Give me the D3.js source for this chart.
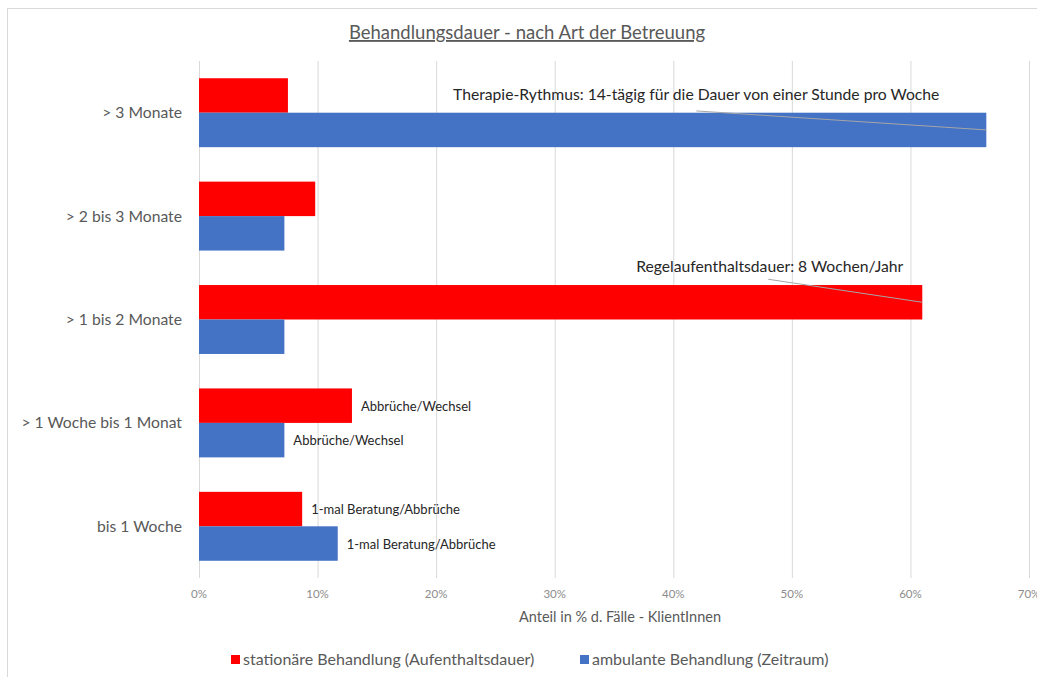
<!DOCTYPE html>
<html lang="de">
<head>
<meta charset="UTF-8">
<title>Behandlungsdauer</title>
<style>
  body { margin: 0; background: #fff; }
  svg text { font-family: Lato, "Open Sans", sans-serif; }
</style>
</head>
<body>
<div id="chart"></div>
<script src="https://cdnjs.cloudflare.com/ajax/libs/d3/7.8.5/d3.min.js"></script>
<script>
// data
var categories = ["> 3 Monate", "> 2 bis 3 Monate", "> 1 bis 2 Monate", "> 1 Woche bis 1 Monat", "bis 1 Woche"];
var stationaer = [7.5, 9.8, 61.0, 12.9, 8.7];
var ambulant = [66.4, 7.2, 7.2, 7.2, 11.7];
var seriesNames = ["stationäre Behandlung (Aufenthaltsdauer)", "ambulante Behandlung (Zeitraum)"];
var ticks = [0, 10, 20, 30, 40, 50, 60, 70];
var stationaerLabels = ["", "", "", "Abbrüche/Wechsel", "1-mal Beratung/Abbrüche"];
var ambulantLabels = ["", "", "", "Abbrüche/Wechsel", "1-mal Beratung/Abbrüche"];
var callouts = [
  { series: 1, cat: 0, text: "Therapie-Rythmus: 14-tägig für die Dauer von einer Stunde pro Woche" },
  { series: 0, cat: 2, text: "Regelaufenthaltsdauer: 8 Wochen/Jahr" }
];
var title = "Behandlungsdauer - nach Art der Betreuung";
var xTitle = "Anteil in % d. Fälle - KlientInnen";

var W = 1037, H = 677;
var colors = ["#ff0000", "#4472c4"];
var plot = { left: 199, right: 1029, top: 61, bottom: 578 };

var svg = d3.select("#chart").append("svg")
    .attr("width", W)
    .attr("height", H);

// chart frame
svg.append("rect")
    .attr("x", 7.5).attr("y", 8.5)
    .attr("width", W + 20).attr("height", H + 20)
    .attr("fill", "#fff")
    .attr("stroke", "#d9d9d9");

var x = d3.scaleLinear().domain([0, 70]).range([plot.left, plot.right]);
var y = d3.scaleBand().domain(categories).range([plot.top, plot.bottom]).paddingInner(1/3).paddingOuter(1/6);
var sub = d3.scaleBand().domain([0, 1]).range([0, y.bandwidth()]);

// gridlines
svg.append("g").selectAll("line")
    .data(ticks)
    .enter()
    .append("line")
    .attr("x1", function(d) { return x(d) + 0.5; })
    .attr("x2", function(d) { return x(d) + 0.5; })
    .attr("y1", plot.top)
    .attr("y2", plot.bottom)
    .attr("stroke", "#d9d9d9")
    .attr("stroke-width", 1);

// tick labels
svg.append("g").selectAll("text")
    .data(ticks)
    .enter()
    .append("text")
    .attr("x", function(d) { return x(d); })
    .attr("y", 598)
    .attr("text-anchor", "middle")
    .attr("font-size", 11.5)
    .attr("fill", "#8c8c8c")
    .text(function(d) { return d + "%"; });

// category labels
svg.append("g").selectAll("text")
    .data(categories)
    .enter()
    .append("text")
    .attr("x", 182)
    .attr("y", function(d) { return y(d) + y.bandwidth() / 2 + 5.5; })
    .attr("text-anchor", "end")
    .attr("font-size", 15.7)
    .attr("fill", "#595959")
    .text(function(d) { return d; });

// bars
var series = [stationaer, ambulant];
series.forEach(function(vals, s) {
    svg.append("g").selectAll("rect")
        .data(vals)
        .enter()
        .append("rect")
        .attr("x", x(0))
        .attr("y", function(d, i) { return y(categories[i]) + sub(s); })
        .attr("width", function(d) { return x(d) - x(0); })
        .attr("height", sub.bandwidth())
        .attr("fill", colors[s]);
});

// small data labels
[stationaerLabels, ambulantLabels].forEach(function(labels, s) {
    svg.append("g").selectAll("text")
        .data(labels)
        .enter()
        .append("text")
        .attr("x", function(d, i) { return x(series[s][i]) + 9; })
        .attr("y", function(d, i) { return y(categories[i]) + sub(s) + sub.bandwidth() / 2 + 5; })
        .attr("font-size", 13)
        .attr("fill", "#262626")
        .text(function(d) { return d; });
});

// callouts with leader lines
var co = [{ dx: -47, tdy: -30, lx: -290, ly: -19 }, { dx: -19, tdy: -30, lx: -154, ly: -23 }];
callouts.forEach(function(c, k) {
    var bx = x(series[c.series][c.cat]);
    var by = y(categories[c.cat]) + sub(c.series) + sub.bandwidth() / 2;
    svg.append("line")
        .attr("x1", bx + co[k].lx).attr("y1", by + co[k].ly)
        .attr("x2", bx).attr("y2", by)
        .attr("stroke", "#a6a6a6")
        .attr("stroke-width", 1);
    svg.append("text")
        .attr("x", bx + co[k].dx)
        .attr("y", by + co[k].tdy)
        .attr("text-anchor", "end")
        .attr("font-size", 15.7)
        .attr("fill", "#262626")
        .text(c.text);
});

// title
svg.append("text")
    .attr("x", 527)
    .attr("y", 39)
    .attr("text-anchor", "middle")
    .attr("font-size", 18.5)
    .attr("fill", "#595959")
    .attr("text-decoration", "underline")
    .text(title);

// axis title
svg.append("text")
    .attr("x", 620)
    .attr("y", 622)
    .attr("text-anchor", "middle")
    .attr("font-size", 14.5)
    .attr("fill", "#595959")
    .text(xTitle);

// legend
var legX = [231, 580];
var leg = svg.append("g").selectAll("g")
    .data(seriesNames)
    .enter()
    .append("g")
    .attr("transform", function(d, i) { return "translate(" + legX[i] + ",655)"; });
leg.append("rect")
    .attr("width", 9).attr("height", 9)
    .attr("fill", function(d, i) { return colors[i]; });
leg.append("text")
    .attr("x", 12)
    .attr("y", 10)
    .attr("font-size", 16)
    .attr("fill", "#595959")
    .text(function(d) { return d; });
</script>
</body>
</html>
